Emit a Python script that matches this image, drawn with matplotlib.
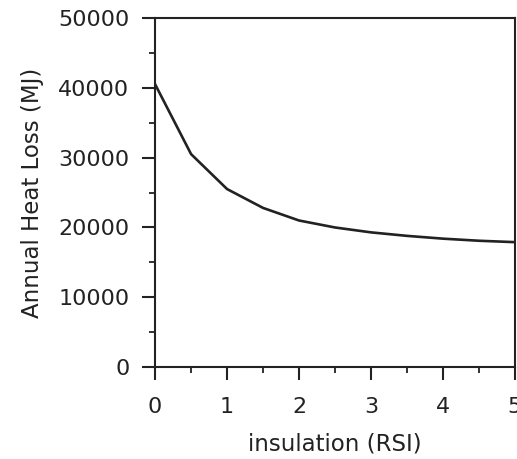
import matplotlib
matplotlib.use("Agg")
import matplotlib.pyplot as plt
from matplotlib.ticker import MultipleLocator

# insulation (RSI) vs annual heat loss (MJ)
rsi = [0, 0.5, 1, 1.5, 2, 2.5, 3, 3.5, 4, 4.5, 5]
heat_loss = [40500, 30500, 25500, 22800, 21000, 20000, 19300, 18800, 18400, 18100, 17900]

ink = "#222222"
fig = plt.figure(figsize=(5.17, 4.59), dpi=100)
ax = fig.add_axes([0.300, 0.200, 0.696, 0.761])

ax.plot(rsi, heat_loss, color=ink, lw=1.9)

ax.set_xlim(0, 5)
ax.set_ylim(0, 50000)
ax.xaxis.set_major_locator(MultipleLocator(1))
ax.xaxis.set_minor_locator(MultipleLocator(0.5))
ax.yaxis.set_major_locator(MultipleLocator(10000))
ax.yaxis.set_minor_locator(MultipleLocator(5000))

for s in ax.spines.values():
    s.set_linewidth(1.5)
    s.set_color(ink)

ax.tick_params(which="major", direction="out", length=9.5, width=1.5, color=ink,
               labelsize=16, labelcolor=ink)
ax.tick_params(axis="y", which="major", pad=9)
ax.tick_params(axis="x", which="major", pad=12)
ax.tick_params(which="minor", direction="out", length=4.5, width=1.3, color=ink)

ax.set_xlabel("insulation (RSI)", fontsize=16.5, color=ink, labelpad=11)
ax.set_ylabel("Annual Heat Loss (MJ)", fontsize=16.5, color=ink, labelpad=10)

fig.savefig("out.png", dpi=100)
